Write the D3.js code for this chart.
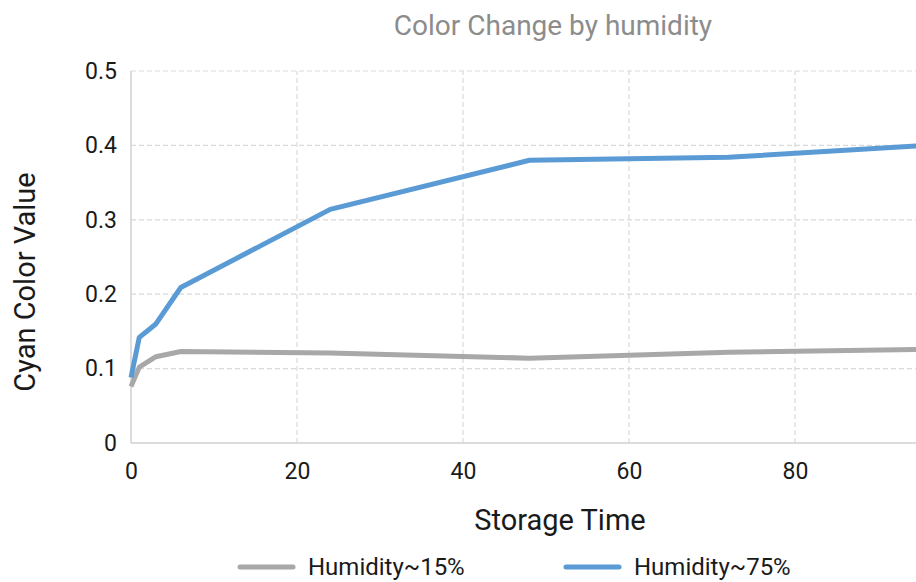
<!DOCTYPE html>
<html>
<head>
<meta charset="utf-8">
<script src="https://cdn.jsdelivr.net/npm/d3@7"></script>
<style>
  body { margin: 0; background: #fff; }
  text { font-family: Roboto, "Noto Sans", sans-serif; }
</style>
</head>
<body>
<div id="wrapper"></div>
<script>
// storage time points and cyan values
const times = [0, 1, 3, 6, 24, 48, 72, 96];
const humidity15 = [0.076, 0.102, 0.116, 0.123, 0.121, 0.114, 0.122, 0.126];
const humidity75 = [0.088, 0.142, 0.160, 0.209, 0.314, 0.380, 0.384, 0.400];
const seriesNames = ["Humidity~15%", "Humidity~75%"];
const seriesColors = ["#A8A8A8", "#5B9BD5"];
const xTicks = [0, 20, 40, 60, 80];
const yTicks = [0, 0.1, 0.2, 0.3, 0.4, 0.5];

function drawChart() {
    const dimensions = {
        width: 916,
        height: 582,
        margin: { top: 71, right: 0, bottom: 139, left: 131 }
    };
    dimensions.boundedHeight = dimensions.height - dimensions.margin.top - dimensions.margin.bottom;

    const svg = d3.select("#wrapper")
        .append("svg")
            .attr("width", dimensions.width)
            .attr("height", dimensions.height);

    // the plot runs off the right side of the picture, so x goes past the edge
    const xScale = d3.scaleLinear()
        .domain([0, 100])
        .range([dimensions.margin.left, dimensions.margin.left + 830]);
    const yScale = d3.scaleLinear()
        .domain([0, 0.5])
        .range([dimensions.margin.top + dimensions.boundedHeight, dimensions.margin.top]);

    svg.append("defs").append("clipPath").attr("id", "clip")
        .append("rect")
            .attr("x", 0).attr("y", 0)
            .attr("width", dimensions.width).attr("height", dimensions.height);

    const plot = svg.append("g").attr("clip-path", "url(#clip)");

    // gridlines
    plot.selectAll(".hgrid").data(yTicks.slice(1)).join("line")
        .attr("x1", xScale(0)).attr("x2", xScale(100))
        .attr("y1", d => yScale(d)).attr("y2", d => yScale(d))
        .attr("stroke", "#d9d9d9").attr("stroke-width", 1.2)
        .attr("stroke-dasharray", "5,3");
    plot.selectAll(".vgrid").data(xTicks.slice(1)).join("line")
        .attr("x1", d => xScale(d)).attr("x2", d => xScale(d))
        .attr("y1", yScale(0)).attr("y2", yScale(0.5))
        .attr("stroke", "#d9d9d9").attr("stroke-width", 1.2)
        .attr("stroke-dasharray", "5,3");

    // axes lines
    plot.append("line")
        .attr("x1", xScale(0)).attr("x2", xScale(100))
        .attr("y1", yScale(0)).attr("y2", yScale(0))
        .attr("stroke", "#d0d0d0").attr("stroke-width", 1.5);
    plot.append("line")
        .attr("x1", xScale(0)).attr("x2", xScale(0))
        .attr("y1", yScale(0)).attr("y2", yScale(0.5))
        .attr("stroke", "#d0d0d0").attr("stroke-width", 1.5);

    // tick labels through d3 axes, domain and ticks hidden
    const xAxis = svg.append("g")
        .attr("transform", `translate(0, ${yScale(0)})`)
        .call(d3.axisBottom(xScale).tickValues(xTicks).tickSize(0).tickPadding(20));
    xAxis.select(".domain").remove();
    xAxis.selectAll("text").attr("font-size", 23).attr("fill", "#1a1a1a")
        .style("font-family", "Roboto, sans-serif");

    const yAxis = svg.append("g")
        .attr("transform", `translate(${xScale(0)}, 0)`)
        .call(d3.axisLeft(yScale).tickValues(yTicks).tickSize(0).tickPadding(14)
            .tickFormat(d => d === 0 ? "0" : d3.format(".1f")(d)));
    yAxis.select(".domain").remove();
    yAxis.selectAll("text").attr("font-size", 23).attr("fill", "#1a1a1a")
        .style("font-family", "Roboto, sans-serif");

    // lines
    const series = [humidity15, humidity75];
    const lineGen = d3.line()
        .x((d, i) => xScale(times[i]))
        .y(d => yScale(d));
    series.forEach((values, k) => {
        plot.append("path")
            .datum(values)
            .attr("d", lineGen)
            .attr("fill", "none")
            .attr("stroke", seriesColors[k])
            .attr("stroke-width", 5)
            .attr("stroke-linejoin", "round");
    });

    // title
    svg.append("text")
        .attr("x", 553).attr("y", 35)
        .attr("text-anchor", "middle")
        .attr("font-size", 28)
        .attr("fill", "#8c8c8c")
        .text("Color Change by humidity");

    // axis titles
    svg.append("text")
        .attr("x", 560).attr("y", 530)
        .attr("text-anchor", "middle")
        .attr("font-size", 29)
        .attr("fill", "#1a1a1a")
        .text("Storage Time");
    svg.append("text")
        .attr("transform", "translate(35, 282) rotate(-90)")
        .attr("text-anchor", "middle")
        .attr("font-size", 29)
        .attr("fill", "#1a1a1a")
        .text("Cyan Color Value");

    // legend
    const legendX = [240, 566];
    const legend = svg.selectAll(".legend").data(seriesNames).join("g")
        .attr("transform", (d, i) => `translate(${legendX[i]}, 567)`);
    legend.append("line")
        .attr("x1", 0).attr("x2", 53)
        .attr("stroke", (d, i) => seriesColors[i])
        .attr("stroke-width", 5)
        .attr("stroke-linecap", "round");
    legend.append("text")
        .attr("x", 68).attr("y", 8)
        .attr("font-size", 24)
        .attr("fill", "#1a1a1a")
        .text(d => d);
}

drawChart();
</script>
</body>
</html>
